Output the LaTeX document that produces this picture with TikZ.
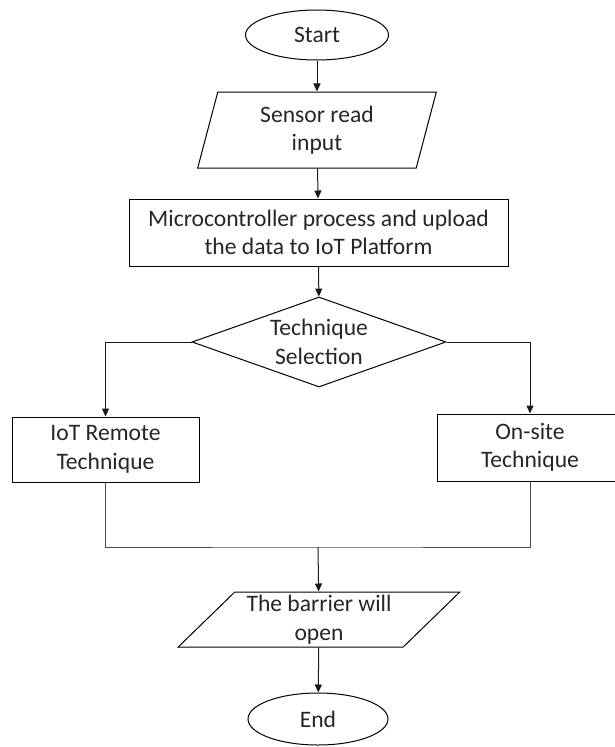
\documentclass[tikz,border=0pt]{standalone}
\usepackage{fontspec}
\setmainfont{Carlito}
\usetikzlibrary{shapes.geometric,arrows.meta}

\begin{document}
\begin{tikzpicture}[
    x=1pt, y=-1pt,
    every node/.style={font=\fontsize{23.6}{28.5}\selectfont, text=black!85, align=center, inner sep=0pt},
    terminal/.style={draw, ellipse, line width=1pt},
    io/.style={draw, trapezium, trapezium stretches=true, line width=1pt},
    process/.style={draw, rectangle, line width=1pt},
    decision/.style={draw, diamond, shape aspect=2.8, line width=1pt, minimum width=254pt, minimum height=90pt},
    flow/.style={-{Triangle[length=8pt,width=7pt]}, line width=1pt, black!90},
    link/.style={line width=1pt, black!70},
]
    \useasboundingbox (0,0) rectangle (614,747);

    % Start and end
    \node[terminal, minimum width=143pt, minimum height=50pt] (start) at (317,35) {Start};
    \node[terminal, minimum width=140pt, minimum height=52pt] (finish) at (318,719) {End};

    % Input / output
    \node[io, trapezium left angle=76.7, trapezium right angle=103.3,
          minimum width=239pt, minimum height=76pt] (sensor) at (317,130) {Sensor read\\input};
    \node[io, trapezium left angle=45, trapezium right angle=135,
          minimum width=282pt, minimum height=55pt] (barrier) at (319,619.5) {The barrier will\\open};

    % Processing
    \node[process, minimum width=379pt, minimum height=67pt] (micro) at (318.5,232.5)
        {Microcontroller process and upload\\the data to IoT Platform};
    \node[decision] (select) at (319,342) {Technique\\Selection};

    % Techniques
    \node[process, minimum width=187pt, minimum height=65pt] (remote) at (105.5,449.5) {IoT Remote\\Technique};
    \node[process, minimum width=186pt, minimum height=67pt] (onsite) at (530,447.5) {On-site\\Technique};

    \coordinate (join) at (318,547);

    % Arrows
    \draw[flow] (start) -- (sensor);
    \draw[flow] (sensor) -- (micro);
    \draw[flow] (micro) -- (select);
    \draw[flow] (select.west) -| (remote.north);
    \draw[flow] (select.east) -| (onsite.north);
    \draw[link] (remote.south) |- (join) -| (onsite.south);
    \draw[flow] (join) -- (barrier);
    \draw[flow] (barrier) -- (finish);
\end{tikzpicture}
\end{document}
